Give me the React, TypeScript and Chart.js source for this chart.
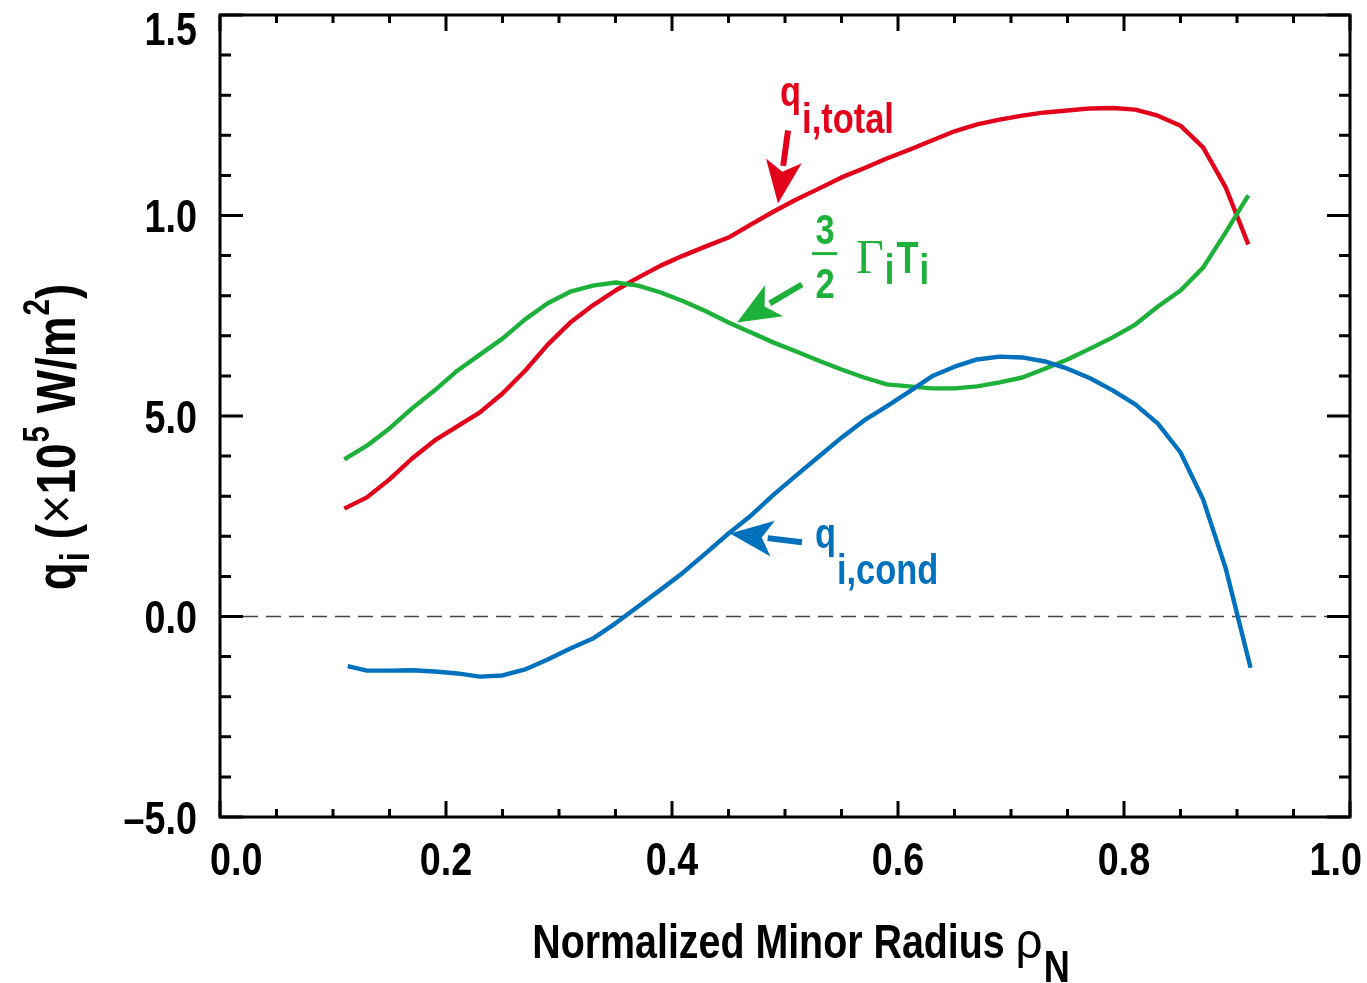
import React, { useEffect, useRef } from "react";
import { Chart, registerables } from "chart.js";

Chart.register(...registerables);

// ---------------- data ----------------
const rho = [
  0.11, 0.13, 0.15, 0.17, 0.19, 0.21, 0.23, 0.25, 0.27, 0.29, 0.31, 0.33, 0.35, 0.37,
  0.39, 0.41, 0.43, 0.45, 0.47, 0.49, 0.51, 0.53, 0.55, 0.57, 0.59, 0.61, 0.63, 0.65,
  0.67, 0.69, 0.71, 0.73, 0.75, 0.77, 0.79, 0.81, 0.83, 0.85, 0.87, 0.89, 0.91,
];

const qTotal = [
  2.69, 2.97, 3.42, 3.94, 4.39, 4.74, 5.09, 5.56, 6.13, 6.78, 7.33, 7.76, 8.13, 8.45,
  8.75, 9.0, 9.23, 9.45, 9.78, 10.1, 10.4, 10.67, 10.95, 11.18, 11.42, 11.64, 11.87, 12.1,
  12.27, 12.39, 12.49, 12.57, 12.62, 12.67, 12.68, 12.64, 12.49, 12.24, 11.7, 10.7, 9.28,
];

const gammaT = [
  3.92, 4.26, 4.69, 5.19, 5.64, 6.13, 6.53, 6.93, 7.41, 7.81, 8.1, 8.25, 8.33, 8.25,
  8.08, 7.86, 7.61, 7.33, 7.08, 6.83, 6.61, 6.38, 6.16, 5.96, 5.79, 5.74, 5.69, 5.69,
  5.74, 5.84, 5.96, 6.18, 6.41, 6.68, 6.96, 7.28, 7.73, 8.13, 8.7, 9.58, 10.5,
];

const rhoCond = [
  0.113, 0.13, 0.15, 0.17, 0.19, 0.21, 0.23, 0.25, 0.27, 0.29, 0.31, 0.33, 0.35, 0.37,
  0.39, 0.41, 0.43, 0.45, 0.47, 0.49, 0.51, 0.53, 0.55, 0.57, 0.59, 0.61, 0.63, 0.65,
  0.67, 0.69, 0.71, 0.73, 0.75, 0.77, 0.79, 0.81, 0.83, 0.85, 0.87, 0.89, 0.912,
];

const qCond = [
  -1.24, -1.35, -1.35, -1.34, -1.37, -1.42, -1.5, -1.47, -1.32, -1.07, -0.8, -0.55, -0.17, 0.25,
  0.67, 1.1, 1.58, 2.07, 2.52, 3.04, 3.52, 3.99, 4.46, 4.89, 5.24, 5.61, 5.99, 6.23,
  6.41, 6.48, 6.46, 6.36, 6.18, 5.94, 5.64, 5.29, 4.81, 4.09, 2.92, 1.2, -1.28,
];

const xTickValues = [0, 0.2, 0.4, 0.6, 0.8, 1.0];
const xTickLabels = ["0.0", "0.2", "0.4", "0.6", "0.8", "1.0"];
const yTickValues = [-5, 0, 5, 10, 15];
const yTickLabels = ["\u20135.0", "0.0", "5.0", "1.0", "1.5"];

// annotation anchors (data coordinates)
const arrowTotal = { from: [0.5027, 12.12], to: [0.4938, 10.3] };
const arrowGamma = { from: [0.515, 8.28], to: [0.4575, 7.33] };
const arrowCond = { from: [0.515, 1.85], to: [0.4513, 2.07] };
const labelTotalAt = [0.4956, 12.74];
const labelGammaAt = [0.5355, 9.05];
const labelCondAt = [0.5265, 1.72];

const RED = "#E2001A";
const GREEN = "#1DB03A";
const BLUE = "#0071BC";

const SANS = "'Liberation Sans Narrow', 'Arial Narrow', 'Liberation Sans', Arial, sans-serif";
const PLAIN = "'Liberation Sans', Arial, sans-serif";
const SERIF = "'Liberation Serif', 'Times New Roman', serif";
const NARROW = 0.82;
const bold = (s: number) => `bold ${s}px ${SANS}`;

type Seg = { t: string; font: string; dy?: number; dx?: number; sx?: number };

function textW(ctx: CanvasRenderingContext2D, t: string, font: string, sx: number) {
  ctx.font = font;
  return ctx.measureText(t).width * sx;
}

function fillScaled(ctx: CanvasRenderingContext2D, t: string, font: string, x: number, y: number, sx: number) {
  ctx.save();
  ctx.font = font;
  ctx.textAlign = "left";
  ctx.textBaseline = "alphabetic";
  ctx.translate(x, y);
  ctx.scale(sx, 1);
  ctx.fillText(t, 0, 0);
  ctx.restore();
}

function drawRich(ctx: CanvasRenderingContext2D, segs: Seg[], x: number, y: number, align: "left" | "center") {
  let total = 0;
  for (const s of segs) total += textW(ctx, s.t, s.font, s.sx ?? NARROW) + (s.dx || 0);
  let cx = align === "center" ? x - total / 2 : x;
  for (const s of segs) {
    const sx = s.sx ?? NARROW;
    cx += s.dx || 0;
    fillScaled(ctx, s.t, s.font, cx, y + (s.dy || 0), sx);
    cx += textW(ctx, s.t, s.font, sx);
  }
}

function drawArrow(ctx: CanvasRenderingContext2D, x1: number, y1: number, x2: number, y2: number, color: string) {
  const ang = Math.atan2(y2 - y1, x2 - x1);
  const len = 43;
  const half = 18;
  const notch = 11;
  const cos = Math.cos(ang);
  const sin = Math.sin(ang);
  const bx = x2 - cos * len;
  const by = y2 - sin * len;
  ctx.save();
  ctx.strokeStyle = color;
  ctx.fillStyle = color;
  ctx.lineWidth = 6;
  ctx.lineCap = "butt";
  ctx.beginPath();
  ctx.moveTo(x1, y1);
  ctx.lineTo(x2 - cos * (len - 5), y2 - sin * (len - 5));
  ctx.stroke();
  ctx.beginPath();
  ctx.moveTo(x2, y2);
  ctx.lineTo(bx - sin * half, by + cos * half);
  ctx.lineTo(x2 - cos * (len - notch), y2 - sin * (len - notch));
  ctx.lineTo(bx + sin * half, by - cos * half);
  ctx.closePath();
  ctx.fill();
  ctx.restore();
}

const framePlugin = {
  id: "framePlugin",
  beforeDatasetsDraw(chart: any) {
    const { ctx, chartArea: a, scales } = chart;
    const y0 = scales.y.getPixelForValue(0);
    ctx.save();
    ctx.strokeStyle = "#444";
    ctx.lineWidth = 1.6;
    ctx.setLineDash([15, 8]);
    ctx.beginPath();
    ctx.moveTo(a.left, y0);
    ctx.lineTo(a.right, y0);
    ctx.stroke();
    ctx.restore();
  },
  afterDraw(chart: any) {
    const { ctx, chartArea: a, scales } = chart;
    const xs = scales.x;
    const ys = scales.y;
    ctx.save();
    ctx.strokeStyle = "#000";
    ctx.lineWidth = 3;
    ctx.lineCap = "butt";
    // frame
    ctx.strokeRect(a.left, a.top, a.right - a.left, a.bottom - a.top);
    // x ticks
    for (let i = 0; i <= 20; i++) {
      const v = i * 0.05;
      const px = xs.getPixelForValue(v);
      const L = i % 4 === 0 ? 16 : 8;
      ctx.beginPath();
      ctx.moveTo(px, a.bottom);
      ctx.lineTo(px, a.bottom - L);
      ctx.moveTo(px, a.top);
      ctx.lineTo(px, a.top + L);
      ctx.stroke();
    }
    // y ticks
    for (let v = -5; v <= 15; v++) {
      const py = ys.getPixelForValue(v);
      const L = v % 5 === 0 ? 23 : 11;
      ctx.beginPath();
      ctx.moveTo(a.left, py);
      ctx.lineTo(a.left + L, py);
      ctx.moveTo(a.right, py);
      ctx.lineTo(a.right - L, py);
      ctx.stroke();
    }
    // tick labels
    ctx.fillStyle = "#000";
    const tf = bold(46);
    xTickValues.forEach((v, i) => {
      const t = xTickLabels[i];
      const w = textW(ctx, t, tf, NARROW);
      let cx = xs.getPixelForValue(v);
      cx = Math.max(210 + w / 2, Math.min(1362 - w / 2, cx));
      fillScaled(ctx, t, tf, cx - w / 2, a.bottom + 58, NARROW);
    });
    yTickValues.forEach((v, i) => {
      const t = yTickLabels[i];
      const w = textW(ctx, t, tf, NARROW);
      const py = ys.getPixelForValue(v);
      const base = Math.max(45, py + 16.5);
      fillScaled(ctx, t, tf, a.left - 23 - w, base, NARROW);
    });

    // x title
    ctx.fillStyle = "#000";
    drawRich(
      ctx,
      [
        { t: "Normalized Minor Radius ", font: bold(48) },
        { t: "\u03C1", font: `normal 50px ${PLAIN}`, sx: 0.95 },
        { t: "N", font: bold(44), dy: 24, dx: 1 },
      ],
      801,
      958,
      "center"
    );

    // y title (rotated)
    ctx.save();
    ctx.translate(75, 437);
    ctx.rotate(-Math.PI / 2);
    drawRich(
      ctx,
      [
        { t: "q", font: bold(56) },
        { t: "i", font: bold(40), dy: 14, dx: 1 },
        { t: " (", font: bold(56) },
        { t: "\u00D7", font: `normal 56px ${PLAIN}`, sx: 0.9 },
        { t: "10", font: bold(56) },
        { t: "5", font: bold(36), dy: -26, dx: 1 },
        { t: " W/m", font: bold(56) },
        { t: "2", font: bold(36), dy: -26, dx: 1 },
        { t: ")", font: bold(56) },
      ],
      0,
      0,
      "center"
    );
    ctx.restore();

    // annotations
    const px = (p: number[]) => [xs.getPixelForValue(p[0]), ys.getPixelForValue(p[1])];
    const arrows: [typeof arrowTotal, string][] = [
      [arrowTotal, RED],
      [arrowGamma, GREEN],
      [arrowCond, BLUE],
    ];
    arrows.forEach(([ar, c]) => {
      const [x1, y1] = px(ar.from);
      const [x2, y2] = px(ar.to);
      drawArrow(ctx, x1, y1, x2, y2, c);
    });

    // q_i,total
    {
      const [lx, ly] = px(labelTotalAt);
      ctx.fillStyle = RED;
      drawRich(
        ctx,
        [
          { t: "q", font: bold(42) },
          { t: "i,total", font: bold(42), dy: 27, dx: 1 },
        ],
        lx,
        ly,
        "left"
      );
    }
    // 3/2 Gamma_i T_i
    {
      const [cx, by] = px(labelGammaAt);
      ctx.fillStyle = GREEN;
      ctx.strokeStyle = GREEN;
      const f = bold(42);
      const w3 = textW(ctx, "3", f, NARROW);
      fillScaled(ctx, "3", f, cx - w3 / 2, by - 10, NARROW);
      fillScaled(ctx, "2", f, cx - w3 / 2, by + 44, NARROW);
      ctx.lineWidth = 3;
      ctx.beginPath();
      ctx.moveTo(cx - 13, by);
      ctx.lineTo(cx + 12, by);
      ctx.stroke();
      drawRich(
        ctx,
        [
          { t: "\u0393", font: `normal 48px ${SERIF}`, sx: 1 },
          { t: "i", font: bold(42), dy: 11, dx: 1 },
          { t: "T", font: bold(44), dx: 2 },
          { t: "i", font: bold(42), dy: 11, dx: 1 },
        ],
        cx + 31,
        by + 19,
        "left"
      );
    }
    // q_i,cond
    {
      const [lx, ly] = px(labelCondAt);
      ctx.fillStyle = BLUE;
      drawRich(
        ctx,
        [
          { t: "q", font: bold(42) },
          { t: "i,cond", font: bold(42), dy: 36, dx: 1 },
        ],
        lx,
        ly,
        "left"
      );
    }
    ctx.restore();
  },
};

export default function App() {
  const ref = useRef<HTMLCanvasElement>(null);
  useEffect(() => {
    if (!ref.current) return;
    const mk = (xs: number[], ys: number[]) => xs.map((x, i) => ({ x, y: ys[i] }));
    const chart = new Chart(ref.current, {
      type: "line",
      data: {
        datasets: [
          { label: "q_i,cond", data: mk(rhoCond, qCond), borderColor: BLUE, borderWidth: 4.4, pointRadius: 0, tension: 0, fill: false, borderJoinStyle: "round" },
          { label: "3/2 Gamma_i T_i", data: mk(rho, gammaT), borderColor: GREEN, borderWidth: 4.4, pointRadius: 0, tension: 0, fill: false, borderJoinStyle: "round" },
          { label: "q_i,total", data: mk(rho, qTotal), borderColor: RED, borderWidth: 4.4, pointRadius: 0, tension: 0, fill: false, borderJoinStyle: "round" },
        ],
      } as any,
      options: {
        animation: false,
        responsive: true,
        maintainAspectRatio: false,
        devicePixelRatio: 1,
        layout: { padding: { top: 15, right: 17, left: 0, bottom: 0 } },
        plugins: { legend: { display: false }, tooltip: { enabled: false } },
        events: [],
        scales: {
          x: {
            type: "linear",
            min: 0,
            max: 1,
            ticks: { display: false, stepSize: 0.2 },
            grid: { display: false },
            border: { display: false },
            afterFit: (s: any) => {
              s.height = 166;
            },
          },
          y: {
            type: "linear",
            min: -5,
            max: 15,
            ticks: { display: false, stepSize: 5 },
            grid: { display: false },
            border: { display: false },
            afterFit: (s: any) => {
              s.width = 220;
            },
          },
        },
      } as any,
      plugins: [framePlugin],
    });
    return () => chart.destroy();
  }, []);
  return (
    <div style={{ position: "fixed", left: 0, top: 0, width: 1367, height: 983, background: "#fff" }}>
      <canvas ref={ref} />
    </div>
  );
}
